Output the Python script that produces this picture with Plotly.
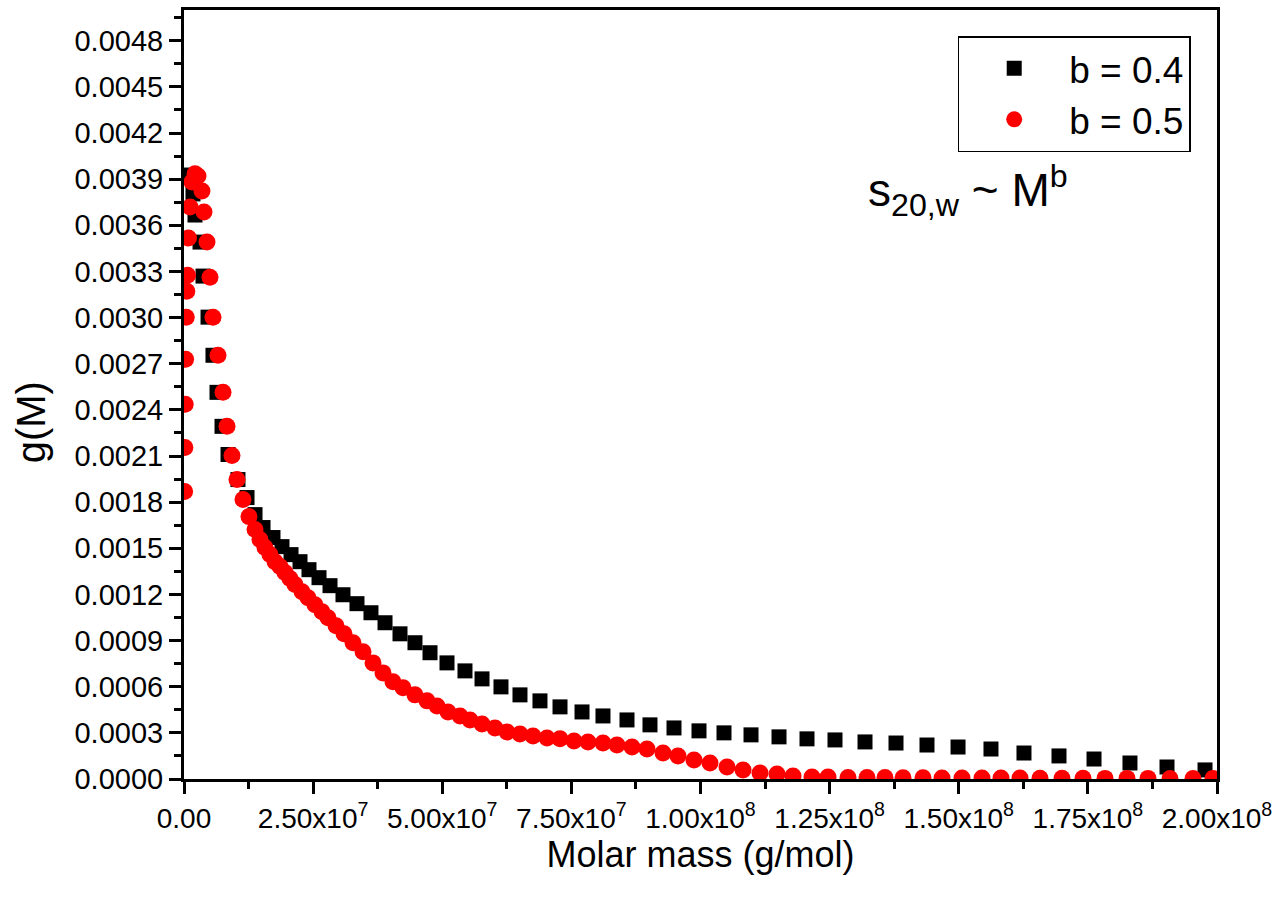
import plotly.graph_objects as go

# ---- data ----
# b = 0.4 series: molar mass in units of 1e6 g/mol, g(M) in units of 1e-4
mass_b04_e6 = [0.39, 1.74, 2.13, 3.10, 3.68, 4.65, 5.61, 6.39, 7.36, 8.52, 10.45, 12.20, 13.75,
               15.30, 17.23, 18.97, 20.72, 22.46, 24.20, 26.14, 28.27, 30.78, 33.49, 36.20, 38.92,
               41.82, 44.72, 47.63, 50.92, 54.40, 57.70, 61.37, 65.05, 68.92, 72.80, 77.06, 81.12,
               85.77, 90.22, 94.87, 99.71, 104.55, 109.78, 115.20, 120.62, 126.04, 131.85, 137.85,
               143.85, 149.86, 156.24, 162.63, 169.41, 176.19, 183.15, 190.32, 197.68]
g_b04_e4 = [39.27, 38.04, 36.67, 34.91, 32.70, 30.03, 27.55, 25.14, 22.93, 21.10, 19.47, 18.30, 17.19,
            16.35, 15.70, 15.11, 14.59, 14.13, 13.61, 13.09, 12.57, 11.98, 11.40, 10.81, 10.16,
            9.44, 8.86, 8.21, 7.55, 7.03, 6.51, 5.99, 5.47, 5.08, 4.69, 4.36, 4.10,
            3.84, 3.52, 3.32, 3.13, 3.00, 2.87, 2.74, 2.61, 2.54, 2.41, 2.34,
            2.21, 2.08, 1.95, 1.69, 1.50, 1.30, 1.04, 0.78, 0.59]

# b = 0.5 series
mass_b05_e6 = [0.12, 0.17, 0.23, 0.31, 0.43, 0.54, 0.68, 0.87, 1.16, 1.55, 2.13, 2.71,
               3.48, 3.87, 4.45, 5.03, 5.61, 6.58, 7.55, 8.33, 9.29, 10.26, 11.42, 12.58, 13.75,
               14.71, 15.68, 16.65, 17.62, 18.59, 19.55, 20.52, 21.49, 22.85, 24.01, 25.36, 26.72,
               27.88, 29.43, 30.98, 32.72, 34.66, 36.59, 38.53, 40.46, 42.40, 44.72, 47.05, 48.98,
               51.11, 53.44, 55.37, 57.70, 60.21, 62.54, 65.05, 67.57, 70.28, 72.80, 75.51, 78.22,
               81.12, 83.83, 86.74, 89.64, 92.74, 95.64, 98.74, 101.84, 105.13, 108.23, 111.52,
               114.81, 117.91, 121.59, 124.69,
               128.56, 132.24, 135.72, 139.21, 143.08, 146.76, 150.63, 154.50, 158.18, 161.86,
               165.73, 169.99, 174.06, 178.32, 182.58, 186.64, 190.90, 195.35, 199.22]
g_b05_e4 = [18.69, 21.56, 24.36, 27.29, 30.03, 31.72, 32.76, 35.17, 37.19, 38.82, 39.36, 39.20,
            38.23, 36.86, 34.91, 32.63, 30.03, 27.55, 25.14, 22.93, 21.04, 19.47, 18.17, 17.06, 16.22,
            15.57, 15.05, 14.59, 14.13, 13.81, 13.42, 13.03, 12.64, 12.18, 11.79, 11.33, 10.88,
            10.49, 9.97, 9.44, 8.86, 8.27, 7.55, 6.90, 6.32, 5.93, 5.47, 5.08, 4.75,
            4.36, 4.10, 3.84, 3.58, 3.32, 3.06, 2.93, 2.80, 2.67, 2.61, 2.47, 2.41,
            2.34, 2.21, 2.08, 1.95, 1.69, 1.50, 1.24, 1.04, 0.78, 0.59, 0.39,
            0.33, 0.20, 0.13, 0.13,
            0.10, 0.09, 0.09, 0.08, 0.08, 0.07, 0.07, 0.06, 0.06, 0.06,
            0.05, 0.05, 0.05, 0.04, 0.04, 0.04, 0.03, 0.03, 0.03]

series_names = ["b = 0.4", "b = 0.5"]

x_tick_vals = [0, 2.5e7, 5.0e7, 7.5e7, 1.0e8, 1.25e8, 1.5e8, 1.75e8, 2.0e8]
x_tick_text = ["0.00", "2.50x10<sup>7</sup>", "5.00x10<sup>7</sup>", "7.50x10<sup>7</sup>",
               "1.00x10<sup>8</sup>", "1.25x10<sup>8</sup>", "1.50x10<sup>8</sup>",
               "1.75x10<sup>8</sup>", "2.00x10<sup>8</sup>"]

FONT = "Liberation Sans, Arial, sans-serif"

fig = go.Figure()
fig.add_trace(go.Scatter(
    x=[m * 1e6 for m in mass_b04_e6], y=[g * 1e-4 for g in g_b04_e4],
    mode="markers", name=series_names[0],
    marker=dict(symbol="square", size=15, color="black", line=dict(width=0)),
))
fig.add_trace(go.Scatter(
    x=[m * 1e6 for m in mass_b05_e6], y=[g * 1e-4 for g in g_b05_e4],
    mode="markers", name=series_names[1],
    marker=dict(symbol="circle", size=17, color="#ff0000", line=dict(width=0)),
))

axis_common = dict(
    showline=True, linecolor="black", linewidth=3, mirror=True,
    ticks="outside", ticklen=12, tickwidth=2.5, tickcolor="black",
    showgrid=False, zeroline=False, automargin=False,
)

fig.update_xaxes(
    **axis_common,
    tickfont=dict(family=FONT, size=28, color="black"),
    range=[0, 2.0e8],
    tickmode="array", tickvals=x_tick_vals, ticktext=x_tick_text,
    minor=dict(dtick=1.25e7, tick0=0, ticks="outside", ticklen=7, tickwidth=2.5, tickcolor="black"),
    title=dict(text="Molar mass (g/mol)", font=dict(family=FONT, size=36, color="black"), standoff=8),
)
fig.update_yaxes(
    **axis_common,
    tickfont=dict(family=FONT, size=29, color="black"),
    range=[0, 0.005],
    tick0=0, dtick=0.0003, tickformat=".4f",
    minor=dict(dtick=0.00015, tick0=0, ticks="outside", ticklen=7, tickwidth=2.5, tickcolor="black"),
)

# y-axis title (placed as rotated text to match the reference position)
fig.add_annotation(
    x=-0.148, y=0.464, xref="paper", yref="paper", xanchor="center", yanchor="middle",
    text="g(M)", textangle=-90, showarrow=False,
    font=dict(family=FONT, size=40, color="black"),
)

fig.add_annotation(
    x=0.66, y=0.765, xref="paper", yref="paper", xanchor="left", yanchor="middle",
    text="s<sub>20,w</sub> ~ M<sup>b</sup>", showarrow=False,
    font=dict(family=FONT, size=46, color="black"),
)

fig.update_layout(
    width=1277, height=899,
    margin=dict(l=184, r=60, t=10, b=120, autoexpand=False),
    paper_bgcolor="white", plot_bgcolor="white",
    showlegend=True,
    legend=dict(
        x=0.749, y=0.966, xanchor="left", yanchor="top",
        bgcolor="white", bordercolor="black", borderwidth=1.5,
        font=dict(family=FONT, size=37, color="black"),
        itemsizing="trace", itemwidth=100,
    ),
)

fig.write_html("out.html")
